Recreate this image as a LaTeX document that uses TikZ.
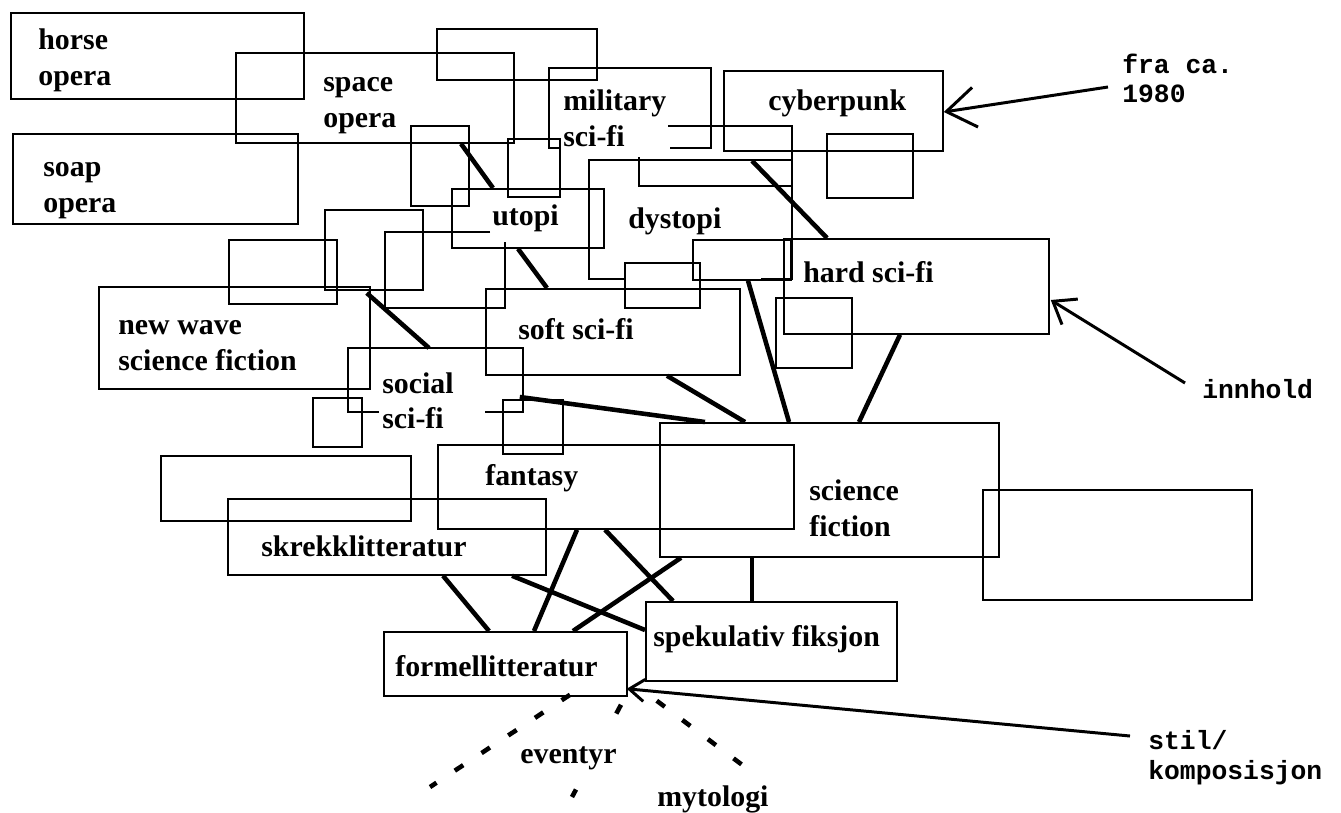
\documentclass[tikz,border=0pt]{standalone}
\usepackage{fontspec}
\setmainfont{Liberation Serif}
\setmonofont{Liberation Mono}
\usepackage{tikz}
\usetikzlibrary{arrows.meta,calc}
\tikzset{>={Straight Barb[length=4mm,width=6mm]}}

\begin{document}
\begin{tikzpicture}[x=0.02cm, y=-0.02cm,
		genre/.style 2 args={draw=black, line width=1pt, inner sep=0pt, anchor=north west, minimum width=#1*0.02cm, minimum height=#2*0.02cm},
		ghost/.style 2 args={genre={#1}{#2}, draw=none},
		frame/.style={draw=black, line width=1pt},
		word/.style={anchor=west, align=left, inner sep=0pt, font=\fontsize{17}{20}\selectfont\bfseries},
		mono/.style={anchor=west, align=left, inner sep=0pt, font=\fontsize{15}{17}\selectfont\ttfamily\bfseries},
		link/.style={draw=black, line width=2.6pt},
		trail/.style={draw=black, line width=2.6pt, dash pattern=on 5.7pt off 12.5pt},
		hint/.style={draw=black, line width=1.7pt}]
		\useasboundingbox (0,0) rectangle (1341,812);
		\node[genre={293}{86}] (1) at (10,12) {};
		\node[genre={285}{90}] (2) at (12,133) {};
		\node[genre={278}{90}] (3) at (235,52) {};
		\node[genre={219}{80}] (4) at (723,70) {};
		\node[genre={152}{59}] (5) at (451,188) {};
		\node[ghost={201}{117}] (6) at (589,160) {};
		\node[genre={265}{95}] (7) at (783,238) {};
		\node[genre={254}{86}] (8) at (485,288) {};
		\node[genre={271}{102}] (9) at (98,286) {};
		\node[ghost={173}{62}] (10) at (348,348) {};
		\node[genre={339}{134}] (11) at (659,422) {};
		\node[genre={356}{84}] (12) at (437,444) {};
		\node[genre={318}{76}] (13) at (227,498) {};
		\node[genre={243}{64}] (14) at (383,631) {};
		\node[genre={251}{79}] (15) at (645,601) {};
		\node[ghost={160}{78}] (16) at (549,68) {};
		
		\draw[frame] ($(16.south west)+(11,0)$) -- (16.south west) -- (16.north west) -- (16.north east) -- (16.south east) -- ++(-41,0);
		\draw[frame] ($(10.south west)+(31,0)$) -- (10.south west) -- (10.north west) -- (10.north east) -- (10.south east) -- ++(-38,0);
		\draw[frame] ($(6.south west)+(36,0)$) -- (6.south west) -- (6.north west) -- (6.north east) -- (6.south east) -- ++(-31,0);
		\draw[frame] (668,126) -- (792,126) -- (792,186) -- (639,186) -- (639,157);
		\draw[frame] (490,232) -- (385,232) -- (385,308) -- (505,308) -- (505,242);
		\draw[frame] (437,29) rectangle (597,80);
		\draw[frame] (411,126) rectangle (469,206);
		\draw[frame] (508,139) rectangle (560,197);
		\draw[frame] (827,134) rectangle (913,198);
		\draw[frame] (325,210) rectangle (423,290);
		\draw[frame] (229,240) rectangle (337,304);
		\draw[frame] (625,263) rectangle (700,308);
		\draw[frame] (693,240) rectangle (791,280);
		\draw[frame] (776,298) rectangle (852,368);
		\draw[frame] (313,398) rectangle (362,447);
		\draw[frame] (503,400) rectangle (563,454);
		\draw[frame] (161,456) rectangle (411,521);
		\draw[frame] (983,490) rectangle (1252,600);
		
		\coordinate (d1) at (430,787);
		\coordinate (d2) at (572,797);
		\coordinate (d3) at (757,776);
		\path ($(14.south west)+(187,-2)$) edge[trail] (d1);
		\path ($(14.south west)+(238,8)$) edge[trail] (d2);
		\path ($(14.south east)+(29,4)$) edge[trail] (d3);
		
		\node[word] (1t) at (38,60.5) {\strut horse\\\strut opera};
		\node[word] (2t) at (43,187.5) {\strut soap\\\strut opera};
		\node[word] (3t) at (323,102.5) {\strut space\\\strut opera};
		\node[word] (16t) at (563,121.5) {\strut military\\\strut sci-fi};
		\node[word] (4t) at (768,103) {\strut cyberpunk};
		\node[word] (5t) at (492,218) {\strut utopi};
		\node[word] (6t) at (628,221) {\strut dystopi};
		\node[word] (7t) at (803,275) {\strut hard sci-fi};
		\node[word] (8t) at (518,332) {\strut soft sci-fi};
		\node[word] (9t) at (118,345.5) {\strut new wave\\\strut science fiction};
		\node[word] (10t) at (382,404) {\strut social\\\strut sci-fi};
		\node[word] (11t) at (809,511.5) {\strut science\\\strut fiction};
		\node[word] (12t) at (485,478) {\strut fantasy};
		\node[word] (13t) at (261,549) {\strut skrekklitteratur};
		\node[word] (14t) at (395,669) {\strut formellitteratur};
		\node[word] (15t) at (653,639) {\strut spekulativ fiksjon};
		\node[word, fill=white, inner ysep=5pt] (17t) at (520,756) {\strut eventyr};
		\node[word] (18t) at (657,799) {\strut mytologi};
		\node[mono] (19t) at (1122,82) {\strut fra ca.\\\strut 1980};
		\node[mono] (20t) at (1202,393) {\strut innhold};
		\node[mono] (21t) at (1148,758.5) {\strut stil/\\\strut komposisjon};
		
		\path ($(3.south west)+(226,0)$) edge[link] ($(5.north west)+(42,0)$);
		\path ($(5.south west)+(67,0)$) edge[link] ($(8.north west)+(62,0)$);
		\path ($(9.north east)+(-4,7)$) edge[link] ($(10.north west)+(81,0)$);
		\path ($(4.south west)+(29,9)$) edge[link] ($(7.north west)+(44,0)$);
		\path ($(10.north east)+(-3,49)$) edge[link] ($(11.north west)+(46,0)$);
		\path ($(8.south west)+(182,0)$) edge[link] ($(11.north west)+(86,0)$);
		\path ($(6.south west)+(159,2)$) edge[link] ($(11.north west)+(130,0)$);
		\path ($(7.south west)+(117,0)$) edge[link] ($(11.north west)+(200,0)$);
		\path ($(12.south west)+(140,0)$) edge[link] ($(14.north west)+(151,0)$);
		\path ($(12.south west)+(168,0)$) edge[link] ($(15.north west)+(28,0)$);
		\path ($(13.south west)+(216,0)$) edge[link] ($(14.north west)+(106,0)$);
		\path ($(13.south west)+(285,0)$) edge[link] ($(15.north west)+(0,29)$);
		\path ($(11.south west)+(22,0)$) edge[link] ($(14.north west)+(190,0)$);
		\path ($(11.south west)+(93,0)$) edge[link] ($(15.north west)+(107,0)$);
		
		\coordinate (a1) at (1108,87);
		\coordinate (a2) at (1185,383);
		\coordinate (a3) at (1130,736);
		\path (a1) edge[hint, -{Straight Barb[length=5.8mm,width=8mm]}] ($(4.north east)+(0,42)$);
		\path (a2) edge[hint, ->] ($(7.north east)+(1,62)$);
		\path (a3) edge[hint, -{Straight Barb[length=3mm,width=4.4mm]}] ($(14.south east)+(-1,-8)$);
		
	\end{tikzpicture}
\end{document}
